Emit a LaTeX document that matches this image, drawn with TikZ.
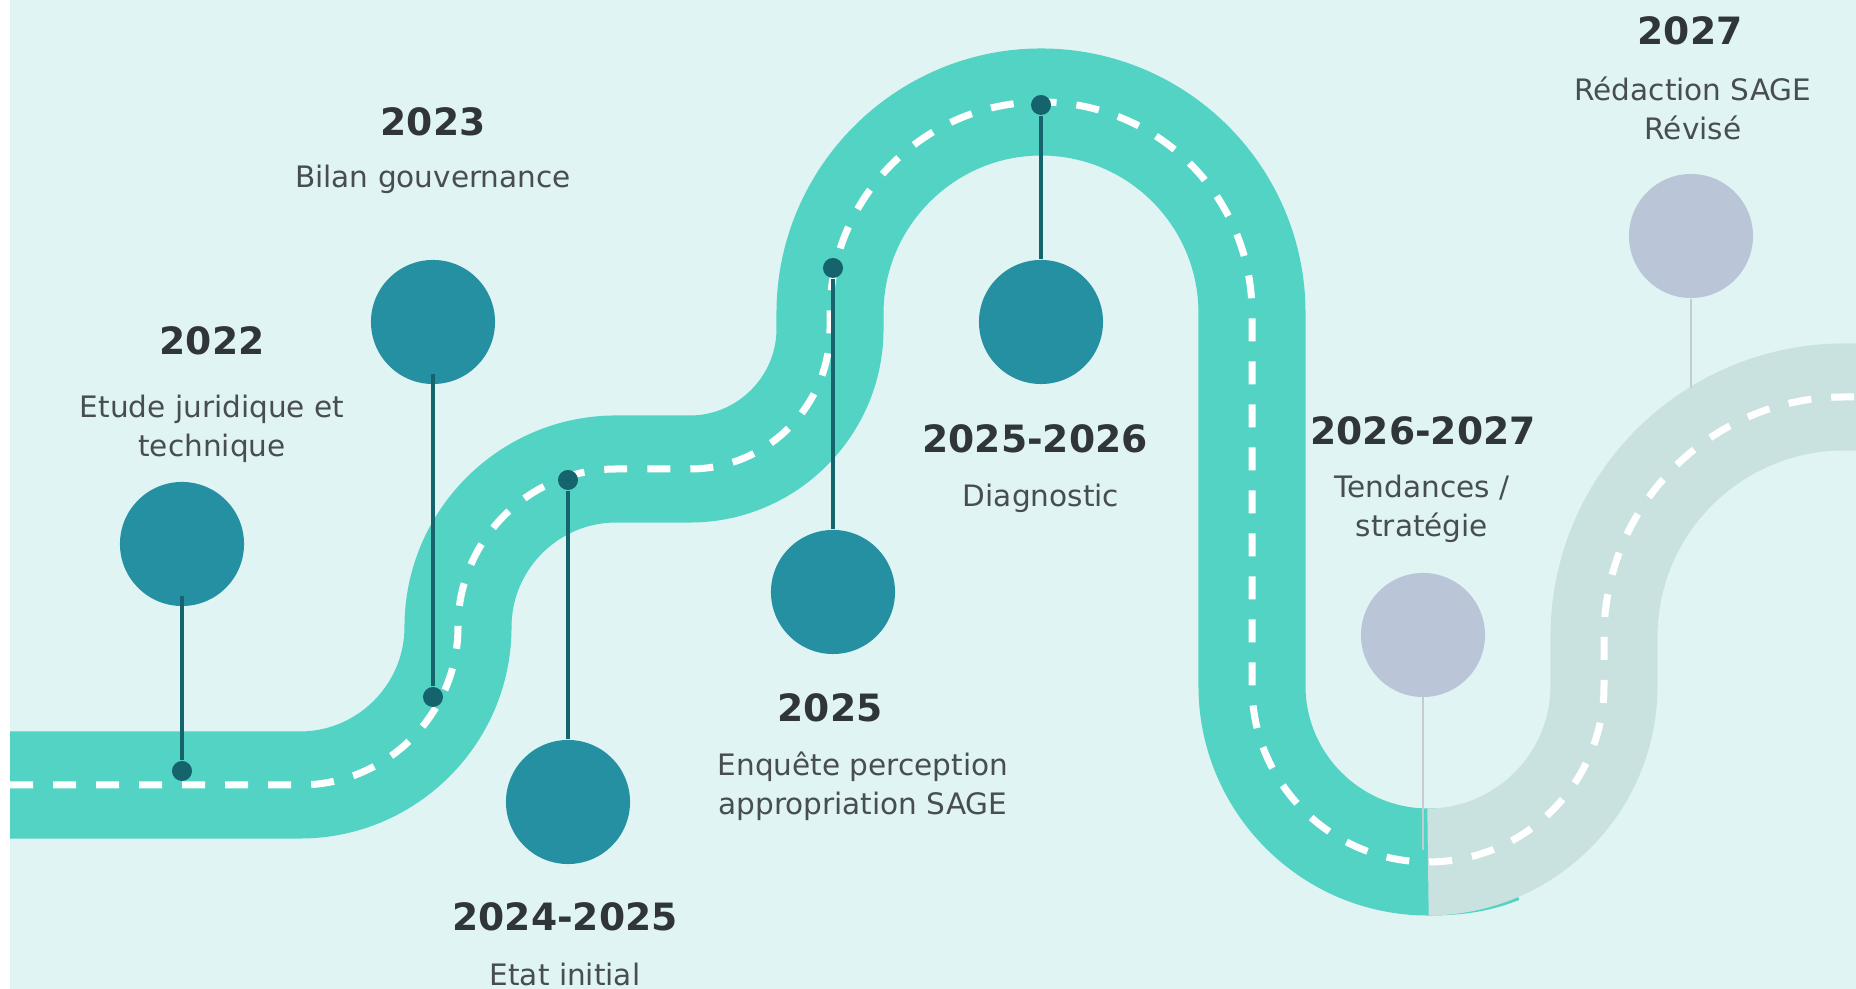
\documentclass[tikz,border=0pt]{standalone}
\usepackage{fontspec}
\setmainfont{DejaVu Sans}
\definecolor{bgcyan}{HTML}{E0F4F3}
\definecolor{roadteal}{HTML}{52D3C4}
\definecolor{roadgrey}{HTML}{C9E2E0}
\definecolor{stoneteal}{HTML}{2490A2}
\definecolor{stemteal}{HTML}{15636C}
\definecolor{stonegrey}{HTML}{BAC6D8}
\definecolor{stemgrey}{HTML}{C3CCD2}
\definecolor{yeargrey}{HTML}{30353A}
\definecolor{textgrey}{HTML}{474D52}

\begin{document}
\begin{tikzpicture}[x=0.01cm,y=-0.01cm]
        \tikzstyle{road}=[line width=1.07cm]
        \tikzstyle{lane}=[white, line width=0.07cm, dash pattern=on 0.23cm off 0.2cm]
        \tikzstyle{stone}=[circle, fill=stoneteal, minimum size=1.24cm, inner sep=0pt]
        \tikzstyle{later}=[circle, fill=stonegrey, minimum size=1.24cm, inner sep=0pt]
        \tikzstyle{pin}=[circle, fill=stemteal, minimum size=0.2cm, inner sep=0pt]
        \tikzstyle{stem}=[stemteal, line width=1.2pt]
        \tikzstyle{faint}=[stemgrey, line width=0.6pt]
        \tikzstyle{year}=[font=\fontsize{10.7}{12}\selectfont\bfseries, text=yeargrey, inner sep=0pt]
        \tikzstyle{what}=[font=\fontsize{8.4}{11.1}\selectfont, text=textgrey, align=center, inner sep=0pt, anchor=base]

        \useasboundingbox (0,0) rectangle (1856,989);
        \fill[bgcyan] (0,0) rectangle (1856,989);
        \fill[white] (0,0) rectangle (10,989);
        \clip (10,0) rectangle (1856,989);

        % the road so far
        \draw[road, roadteal] (10,785) -- (300,785)
            .. controls (387,785) and (458,714) .. (458,627)
            .. controls (458,540) and (529,469) .. (616,469) -- (690,469)
            .. controls (767,469) and (830,406) .. (830,329) -- (830,313)
            .. controls (830,197) and (925,102) .. (1041,102)
            .. controls (1158,102) and (1252,197) .. (1252,313) -- (1252,686)
            .. controls (1252,783) and (1331,862) .. (1428,862)
            .. controls (1460,862) and (1480,858) .. (1500,850);
        % the road still to come
        \draw[road, roadgrey] (1428,862)
            .. controls (1525,862) and (1604,783) .. (1604,686) -- (1604,637)
            .. controls (1604,504) and (1712,397) .. (1844,397) -- (1900,397);
        % centre line
        \draw[lane] (10,785) -- (300,785)
            .. controls (387,785) and (458,714) .. (458,627)
            .. controls (458,540) and (529,469) .. (616,469) -- (690,469)
            .. controls (767,469) and (830,406) .. (830,329) -- (830,313)
            .. controls (830,197) and (925,102) .. (1041,102)
            .. controls (1158,102) and (1252,197) .. (1252,313) -- (1252,686)
            .. controls (1252,783) and (1331,862) .. (1428,862)
            .. controls (1525,862) and (1604,783) .. (1604,686) -- (1604,637)
            .. controls (1604,504) and (1712,397) .. (1844,397) -- (1900,397);

        % milestones
        \node[stone] (c22) at (182,544) {};
        \node[pin] (d22) at (182,771) {};
        \draw[stem] (d22) -- ([yshift=0.11cm]c22.south);
        \node[year] (y22) at (212,341) {2022};
        \node[what] (t22) at (212,457) {Etude juridique et\\technique};

        \node[stone] (c23) at (433,322) {};
        \node[pin] (d23) at (433,697) {};
        \draw[stem] (d23) -- ([yshift=0.11cm]c23.south);
        \node[year] (y23) at (433,122) {2023};
        \node[what] (t23) at (433,188) {Bilan gouvernance};

        \node[stone] (c2425) at (568,802) {};
        \node[pin] (d2425) at (568,480) {};
        \draw[stem] (d2425) -- (c2425.north);
        \node[year] (y2425) at (565,917) {2024-2025};
        \node[what] (t2425) at (565,986) {Etat initial};

        \node[stone] (c25) at (833,592) {};
        \node[pin] (d25) at (833,268) {};
        \draw[stem] (d25) -- (c25.north);
        \node[year] (y25) at (830,708) {2025};
        \node[what] (t25) at (863,815) {Enquête perception\\appropriation SAGE};

        \node[stone] (c2526) at (1041,322) {};
        \node[pin] (d2526) at (1041,105) {};
        \draw[stem] (d2526) -- (c2526.north);
        \node[year] (y2526) at (1035,439) {2025-2026};
        \node[what] (t2526) at (1041,507) {Diagnostic};

        \coordinate (e2627) at (1423,850);
        \draw[faint] (1423,640) -- (e2627);
        \node[later] (c2627) at (1423,635) {};
        \node[year] (y2627) at (1423,431) {2026-2027};
        \node[what] (t2627) at (1422,537) {Tendances /\\stratégie};

        \coordinate (e27) at (1691,388);
        \node[later] (c27) at (1691,236) {};
        \draw[faint] (c27.south) -- (e27);
        \node[year] (y27) at (1690,31) {2027};
        \node[what] (t27) at (1693,140) {Rédaction SAGE\\Révisé};
    \end{tikzpicture}
\end{document}
